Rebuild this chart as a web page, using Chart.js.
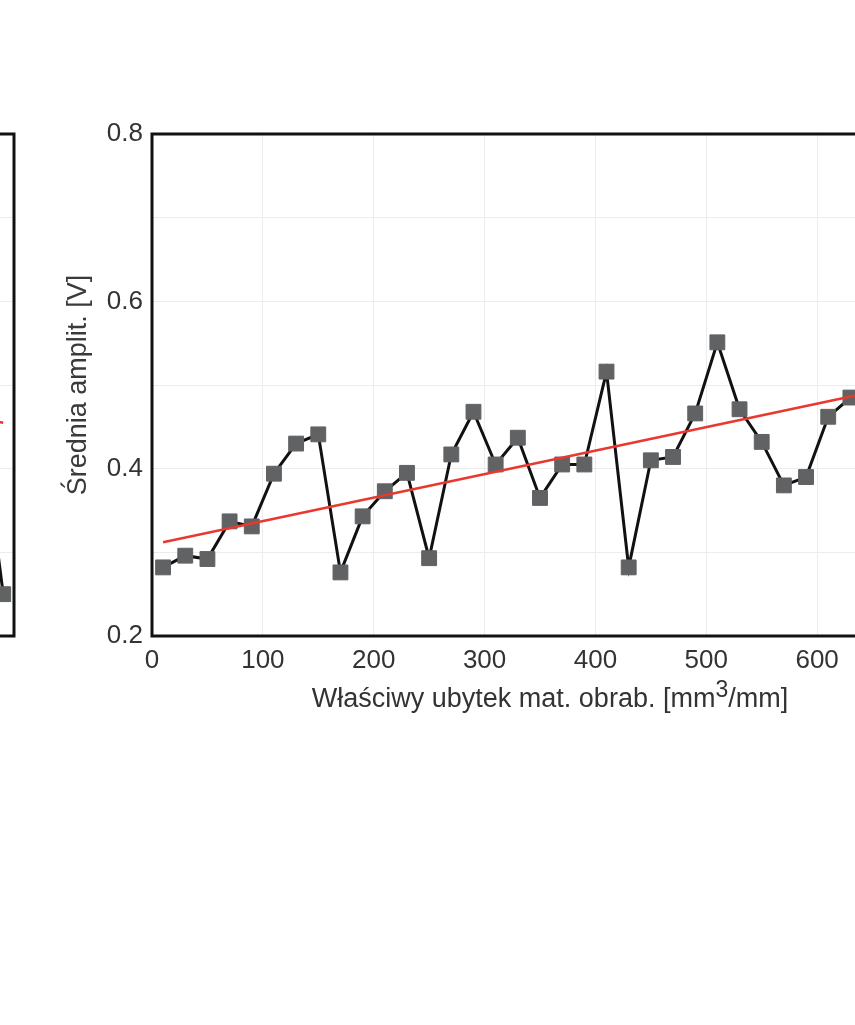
<!DOCTYPE html>
<html lang="pl">
<head>
  <meta charset="UTF-8" />
  <title>Średnia amplituda – ubytek materiału</title>
  <script src="https://cdn.jsdelivr.net/npm/chart.js"></script>
  <style>
    html, body {
      margin: 0;
      padding: 0;
      background: #fff;
      width: 855px;
      height: 1025px;
      overflow: hidden;
      position: relative;
      font-family: 'Liberation Sans', Arial, sans-serif;
    }
    .wrap { position: absolute; top: 0; }
    #leftWrap { left: -914px; }
    #mainWrap { left: 0; }
    #xTitle {
      position: absolute;
      left: 550px;
      top: 683px;
      transform: translateX(-50%);
      white-space: nowrap;
      font-size: 27px;
      color: #333;
    }
    #xTitle sup { font-size: 23px; vertical-align: 10px; line-height: 0; }
  </style>
</head>
<body>
  <div class="wrap" id="leftWrap"><canvas id="leftChart" width="1000" height="800"></canvas></div>
  <div class="wrap" id="mainWrap"><canvas id="mainChart" width="1000" height="800"></canvas></div>
  <div id="xTitle">Właściwy ubytek mat. obrab. [mm<sup>3</sup>/mm]</div>
  <script>
    // prawy wykres - punkty pomiarowe
    const ubytek = [10, 30, 50, 70, 90, 110, 130, 150, 170, 190, 210, 230, 250, 270, 290, 310,
      330, 350, 370, 390, 410, 430, 450, 470, 490, 510, 530, 550, 570, 590, 610, 630];
    const amplituda = [0.282, 0.296, 0.292, 0.337, 0.331, 0.394, 0.430, 0.441, 0.276, 0.343, 0.373, 0.395,
      0.293, 0.417, 0.468, 0.405, 0.437, 0.365, 0.405, 0.405, 0.516, 0.282, 0.410, 0.414,
      0.466, 0.551, 0.471, 0.432, 0.380, 0.390, 0.462, 0.485];
    // linia trendu
    const trendX = [10, 690];
    const trendY = [0.312, 0.503];

    // fragment sąsiedniego wykresu (po lewej)
    const leftX = [690, 710];
    const leftY = [0.45, 0.25];
    const leftTrendX = [10, 710];
    const leftTrendY = [0.62, 0.455];

    const yTicks = [0.2, 0.4, 0.6, 0.8];

    const ramka = {
      id: 'ramka',
      afterDraw(chart) {
        const a = chart.chartArea;
        const ctx = chart.ctx;
        ctx.save();
        ctx.strokeStyle = '#111';
        ctx.lineWidth = 3;
        ctx.strokeRect(a.left, a.top, a.right - a.left, a.bottom - a.top);
        ctx.restore();
      }
    };

    function pary(xs, ys) {
      return xs.map((x, i) => ({ x: x, y: ys[i] }));
    }

    function wykres(id, xs, ys, tx, ty, xMax) {
      return new Chart(document.getElementById(id), {
        type: 'line',
        data: {
          datasets: [
            {
              data: pary(tx, ty),
              borderColor: '#e8382f',
              borderWidth: 2.5,
              pointRadius: 0,
              order: 0
            },
            {
              data: pary(xs, ys),
              borderColor: '#111',
              borderWidth: 3,
              tension: 0,
              pointStyle: 'rect',
              pointRadius: 10.5,
              pointBackgroundColor: '#606264',
              pointBorderColor: '#606264',
              pointBorderWidth: 1,
              order: 1
            }
          ]
        },
        options: {
          responsive: false,
          animation: false,
          layout: { padding: { top: 134, right: 72, left: 0, bottom: 0 } },
          plugins: { legend: { display: false }, tooltip: { enabled: false } },
          scales: {
            x: {
              type: 'linear',
              min: 0,
              max: xMax,
              afterFit: s => { s.height = 164; },
              border: { display: false },
              grid: { color: '#ececec', drawTicks: false },
              ticks: {
                stepSize: 100,
                padding: 9,
                color: '#333',
                font: { size: 26, family: "'Liberation Sans', Arial, sans-serif" },
                callback: v => (v % 100 === 0 ? v : '')
              }
            },
            y: {
              min: 0.2,
              max: 0.8,
              afterFit: s => { s.width = 152; },
              border: { display: false },
              grid: { color: '#ececec', drawTicks: false },
              ticks: {
                stepSize: 0.1,
                padding: 9,
                color: '#333',
                font: { size: 26, family: "'Liberation Sans', Arial, sans-serif" },
                callback: v => (yTicks.some(t => Math.abs(t - v) < 1e-6) ? v.toFixed(1) : '')
              },
              title: {
                display: true,
                text: 'Średnia amplit. [V]',
                color: '#3a3a3a',
                padding: { top: 62, bottom: 0 },
                font: { size: 27, family: "'Liberation Sans', Arial, sans-serif" }
              }
            }
          }
        },
        plugins: [ramka]
      });
    }

    wykres('leftChart', leftX, leftY, leftTrendX, leftTrendY, 720);
    wykres('mainChart', ubytek, amplituda, trendX, trendY, 700);
  </script>
</body>
</html>
